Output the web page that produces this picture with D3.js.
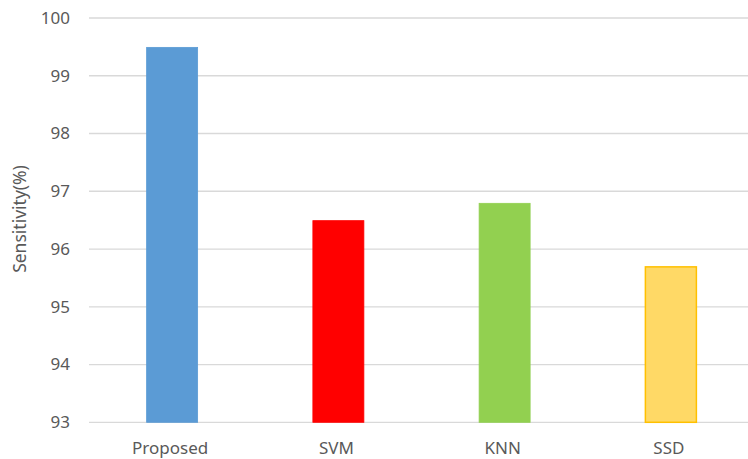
<!DOCTYPE html>
<html><head><meta charset="utf-8">
<script src="https://cdn.jsdelivr.net/npm/d3@7"></script>
<style>body{margin:0;background:#fff;}svg{display:block;font-family:"Noto Sans","Open Sans",sans-serif;}</style>
</head><body>
<script>
const categories = ["Proposed", "SVM", "KNN", "SSD"];
const values = [99.5, 96.5, 96.8, 95.7];
const fills = ["#5B9BD5", "#FF0000", "#92D050", "#FFD966"];
const strokes = ["#5B9BD5", "#FF0000", "#92D050", "#FFC000"];
const yTicks = [93, 94, 95, 96, 97, 98, 99, 100];
const yLabel = "Sensitivity(%)";

const W = 748, H = 459;
const svg = d3.select("body").append("svg").attr("width", W).attr("height", H);

const x = d3.scaleBand().domain(categories).range([89, 754]).paddingInner(0).paddingOuter(0);
const y = d3.scaleLinear().domain([93, 100]).range([422.3, 18]);
const barW = 52;

// gridlines
svg.append("g").selectAll("line").data(yTicks).join("line")
  .attr("x1", 89).attr("x2", W)
  .attr("y1", d => y(d)).attr("y2", d => y(d))
  .attr("stroke", "#D9D9D9").attr("stroke-width", 1.3);

// y axis labels
const yAxis = d3.axisLeft(y).tickValues(yTicks).tickFormat(d3.format("d")).tickSize(0).tickPadding(0);
const gy = svg.append("g").attr("transform", "translate(70,0)").call(yAxis);
gy.select(".domain").remove();
gy.attr("font-size", 17).attr("font-family", '"Noto Sans","Open Sans",sans-serif');
gy.selectAll("text").attr("fill", "#595959");

// bars
svg.append("g").selectAll("rect").data(categories).join("rect")
  .attr("x", (d) => x(d) + x.bandwidth() / 2 - barW / 2 + 0.5)
  .attr("width", barW - 1)
  .attr("y", (d, i) => y(values[i]) + 0.5)
  .attr("height", (d, i) => y(93) - y(values[i]) - 0.5)
  .attr("fill", (d, i) => fills[i])
  .attr("stroke", (d, i) => strokes[i])
  .attr("stroke-width", (d, i) => i === 3 ? 1.5 : 0.8);

// x axis labels
const xAxis = d3.axisBottom(x).tickSize(0).tickPadding(0);
const gx = svg.append("g").attr("transform", "translate(-2,442)").call(xAxis);
gx.select(".domain").remove();
gx.attr("font-size", 17).attr("font-family", '"Noto Sans","Open Sans",sans-serif');
gx.selectAll("text").attr("fill", "#595959");

// y label
svg.append("text")
  .attr("transform", "translate(26,219) rotate(-90)")
  .attr("text-anchor", "middle")
  .attr("fill", "#595959").attr("font-size", 17.5)
  .text(yLabel);
</script>
</body></html>
